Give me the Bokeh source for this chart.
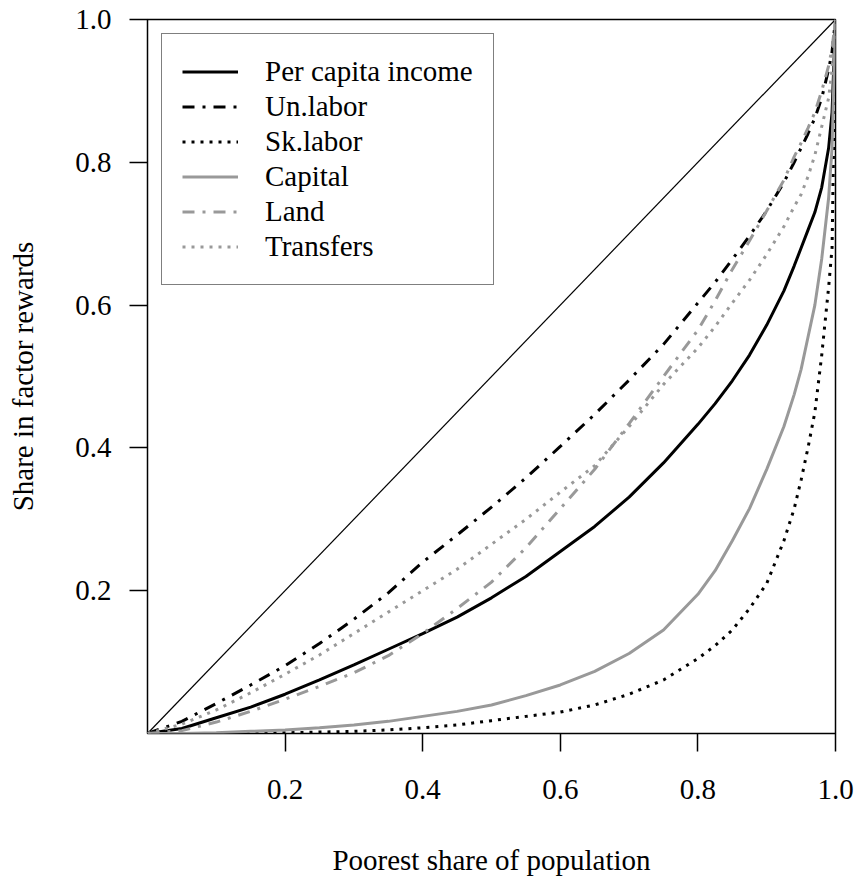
from bokeh.plotting import figure
from bokeh.models import Range1d, FixedTicker, CustomJSTickFormatter, Legend, LegendItem
from bokeh.embed import file_html
from bokeh.resources import INLINE

# Poorest share of population (x) and cumulative shares (Lorenz curves)
pop_share = [0, 0.05, 0.1, 0.15, 0.2, 0.25, 0.3, 0.35, 0.4, 0.45, 0.5, 0.55, 0.6,
             0.65, 0.7, 0.75, 0.8, 0.825, 0.85, 0.875, 0.9, 0.925, 0.94, 0.95, 0.96,
             0.97, 0.98, 0.99, 0.995, 1.0]

per_capita_income = [0, 0.007, 0.022, 0.037, 0.055, 0.075, 0.096, 0.118, 0.14, 0.163, 0.19,
                     0.22, 0.255, 0.29, 0.331, 0.379, 0.433, 0.462, 0.494, 0.53, 0.572, 0.62,
                     0.655, 0.68, 0.705, 0.73, 0.765, 0.82, 0.87, 1.0]
un_labor = [0, 0.017, 0.042, 0.068, 0.095, 0.126, 0.16, 0.197, 0.24, 0.278, 0.317, 0.358,
            0.402, 0.447, 0.495, 0.545, 0.603, 0.632, 0.664, 0.697, 0.732, 0.772, 0.8, 0.82,
            0.84, 0.862, 0.89, 0.93, 0.955, 1.0]
sk_labor = [0, 0, 0, 0, 0.001, 0.002, 0.003, 0.005, 0.008, 0.012, 0.018, 0.024, 0.03, 0.04,
            0.055, 0.075, 0.105, 0.123, 0.145, 0.175, 0.21, 0.27, 0.315, 0.355, 0.4, 0.45,
            0.53, 0.625, 0.68, 1.0]
capital = [0, 0.0, 0.001, 0.003, 0.005, 0.008, 0.012, 0.017, 0.024, 0.031, 0.04, 0.053, 0.068,
           0.087, 0.112, 0.145, 0.195, 0.228, 0.27, 0.315, 0.37, 0.43, 0.475, 0.51, 0.555,
           0.6, 0.665, 0.75, 0.82, 1.0]
land = [0, 0.004, 0.016, 0.031, 0.048, 0.066, 0.085, 0.109, 0.14, 0.175, 0.212, 0.26, 0.315,
        0.37, 0.434, 0.5, 0.565, 0.606, 0.65, 0.69, 0.732, 0.775, 0.808, 0.827, 0.848, 0.87,
        0.9, 0.935, 0.96, 1.0]
transfers = [0, 0.013, 0.033, 0.057, 0.083, 0.11, 0.14, 0.17, 0.2, 0.23, 0.265, 0.3, 0.338,
             0.375, 0.43, 0.489, 0.54, 0.57, 0.603, 0.635, 0.671, 0.71, 0.738, 0.755, 0.78,
             0.81, 0.85, 0.89, 0.93, 1.0]

equality_x = [0, 1]
equality_y = [0, 1]

tick_values = [0.2, 0.4, 0.6, 0.8, 1.0]

FONT = "Liberation Serif"
FS = "29px"
GRAY = "#999999"

p = figure(width=855, height=878, output_backend="svg", toolbar_location=None,
           x_range=Range1d(0, 1), y_range=Range1d(0, 1),
           min_border_left=147, min_border_right=20, min_border_top=19, min_border_bottom=142)

p.xgrid.visible = False
p.ygrid.visible = False
p.outline_line_color = "black"
p.outline_line_width = 1.5
p.background_fill_color = "white"
p.border_fill_color = "white"

fmt = CustomJSTickFormatter(code="return tick.toFixed(1);")
for ax in (p.xaxis[0], p.yaxis[0]):
    ax.ticker = FixedTicker(ticks=tick_values)
    ax.formatter = fmt
    ax.axis_line_color = None
    ax.major_tick_in = 0
    ax.major_tick_out = 18
    ax.major_tick_line_width = 1.5
    ax.major_tick_line_color = "black"
    ax.minor_tick_line_color = None
    ax.major_label_text_font = FONT
    ax.major_label_text_font_size = FS
    ax.major_label_text_color = "black"
    ax.axis_label_text_font = FONT
    ax.axis_label_text_font_size = FS
    ax.axis_label_text_font_style = "normal"
    ax.axis_label_text_color = "black"

p.xaxis.axis_label = "Poorest share of population"
p.yaxis.axis_label = "Share in factor rewards"
p.xaxis.major_label_standoff = 28
p.xaxis.axis_label_standoff = 42
p.yaxis.major_label_standoff = 18
p.yaxis.axis_label_standoff = 33
p.yaxis.major_label_orientation = "horizontal"

LW = 3
p.line(equality_x, equality_y, line_color="black", line_width=1.2)

r1 = p.line(pop_share, per_capita_income, line_color="black", line_width=LW)
r2 = p.line(pop_share, un_labor, line_color="black", line_width=LW, line_dash="12 8 3 8")
r3 = p.line(pop_share, sk_labor, line_color="black", line_width=LW, line_dash="3 6")
r4 = p.line(pop_share, capital, line_color=GRAY, line_width=LW)
r5 = p.line(pop_share, land, line_color=GRAY, line_width=LW, line_dash="12 8 3 8")
r6 = p.line(pop_share, transfers, line_color=GRAY, line_width=LW, line_dash="3 6")

legend = Legend(items=[
    LegendItem(label="Per capita income", renderers=[r1]),
    LegendItem(label="Un.labor", renderers=[r2]),
    LegendItem(label="Sk.labor", renderers=[r3]),
    LegendItem(label="Capital", renderers=[r4]),
    LegendItem(label="Land", renderers=[r5]),
    LegendItem(label="Transfers", renderers=[r6]),
], location="top_left")
legend.margin = 14
legend.padding = 20
legend.spacing = 0
legend.glyph_width = 56
legend.glyph_height = 35
legend.label_height = 35
legend.label_standoff = 27
legend.label_text_font = FONT
legend.label_text_font_size = FS
legend.label_text_color = "black"
legend.border_line_color = "black"
legend.border_line_width = 1.5
legend.background_fill_color = "white"
legend.background_fill_alpha = 1.0
p.add_layout(legend, "center")

open("out.html", "w").write(file_html(p, INLINE))
